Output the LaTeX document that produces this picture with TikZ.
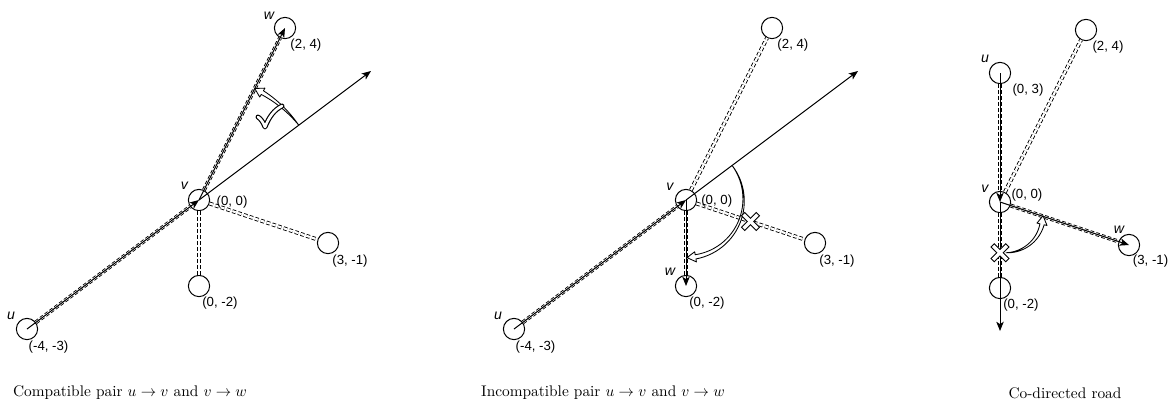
\documentclass[tikz,border=0pt]{standalone}
\usepackage{fontspec}
\newfontfamily\labfont{Liberation Sans}
\usetikzlibrary{arrows.meta}
\tikzset{
  vert/.style={circle, draw, line width=0.65pt, minimum size=13.8pt, inner sep=0pt},
  road/.style={draw, line width=0.55pt, double=white, double distance=1.4pt, dash pattern=on 2.4pt off 1.5pt},
  dirarrow/.style={draw, line width=0.65pt, -{Stealth[length=6pt,width=4.8pt,inset=1.5pt]}},
  coordlab/.style={font=\labfont\fontsize{8.6}{10}\selectfont, inner sep=0pt},
  namelab/.style={font=\labfont\itshape\fontsize{9.2}{10}\selectfont, inner sep=0pt},
  captionlab/.style={font=\fontsize{10}{12}\selectfont, inner sep=0pt},
  markblack/.style={line width=3.6pt, black},
  markwhite/.style={line width=2.2pt, white, shorten <=0.7pt, shorten >=0.7pt},
}
\newcommand{\hollowarc}[4]{%
  \pgfmathsetmacro\hbase{#3-(#4)*0.2/(#1)*57.2958}%
  \draw[line width=0.55pt, fill=white, line join=round]
    plot[domain=#2:\hbase, samples=30] (\x:{#1+0.05*(\x-(#2))/(\hbase-(#2))})
    -- (\hbase:{#1+0.12}) -- (#3:#1) -- (\hbase:{#1-0.12})
    -- plot[domain=\hbase:#2, samples=30] (\x:{#1-0.05*(\x-(#2))/(\hbase-(#2))}) -- cycle;
}
\newcommand{\xmarkat}[1]{%
  \draw[markblack] ([shift={(-5pt,-5pt)}]#1) -- ([shift={(5pt,5pt)}]#1);
  \draw[markblack] ([shift={(-5pt,5pt)}]#1) -- ([shift={(5pt,-5pt)}]#1);
  \draw[markwhite] ([shift={(-5pt,-5pt)}]#1) -- ([shift={(5pt,5pt)}]#1);
  \draw[markwhite] ([shift={(-5pt,5pt)}]#1) -- ([shift={(5pt,-5pt)}]#1);
}
\begin{document}
\begin{tikzpicture}[x=0.65pt, y=-0.65pt]
\useasboundingbox (0,0) rectangle (1169,412);

% ---------------- Panel 1 ----------------
\begin{scope}[shift={(199,200)}, x=27.95pt, y=27.95pt]
  \node[vert] (u1) at (-4,-3) {};
  \node[vert] (v1) at (0,0) {};
  \node[vert] (w1) at (2,4) {};
  \node[vert] (p1) at (3,-1) {};
  \node[vert] (q1) at (0,-2) {};
  \coordinate (f1) at (4,3);
  \draw[road] (u1) -- (v1);
  \draw[road] (v1) -- (w1);
  \draw[road] (v1) -- (p1);
  \draw[road] (v1) -- (q1);
  \draw[dirarrow] (u1.center) -- (v1.center);
  \draw[dirarrow] (v1.center) -- (w1.center);
  \draw[dirarrow] (v1.center) -- (f1);
  \hollowarc{2.9}{36.87}{63.43}{1}
  \node[namelab] at ([shift={(-10.4pt,8.5pt)}]u1) {u};
  \node[namelab] at ([shift={(-9.5pt,9pt)}]v1) {v};
  \node[namelab] at ([shift={(-10.4pt,7.8pt)}]w1) {w};
  \node[coordlab] at ([shift={(14pt,-11.5pt)}]u1) {(-4, -3)};
  \node[coordlab] at ([shift={(21.5pt,-1.3pt)}]v1) {(0, 0)};
  \node[coordlab] at ([shift={(13.6pt,-11.3pt)}]w1) {(2, 4)};
  \node[coordlab] at ([shift={(14.3pt,-11.5pt)}]p1) {(3, -1)};
  \node[coordlab] at ([shift={(13.6pt,-11pt)}]q1) {(0, -2)};
\end{scope}
% check mark
\draw[line width=3.2pt, line cap=round, line join=round] (258,117) .. controls (261,119) and (263,122) .. (265,127) .. controls (269,117) and (274,110) .. (282,106);
\draw[white, line width=1.7pt, line cap=round, line join=round] (258,117) .. controls (261,119) and (263,122) .. (265,127) .. controls (269,117) and (274,110) .. (282,106);

% ---------------- Panel 2 ----------------
\begin{scope}[shift={(686,200)}, x=27.95pt, y=27.95pt]
  \node[vert] (u2) at (-4,-3) {};
  \node[vert] (v2) at (0,0) {};
  \node[vert] (w2) at (0,-2) {};
  \node[vert] (p2) at (3,-1) {};
  \node[vert] (q2) at (2,4) {};
  \coordinate (f2) at (4,3);
  \coordinate (x2) at (1.5,-0.5);
  \draw[road] (u2) -- (v2);
  \draw[road] (v2) -- (q2);
  \draw[road] (v2) -- (p2);
  \draw[road] (v2) -- (w2);
  \draw[dirarrow] (u2.center) -- (v2.center);
  \draw[dirarrow] (v2.center) -- (w2.center);
  \draw[dirarrow] (v2.center) -- (f2);
  \hollowarc{1.34}{36.87}{-89}{-1}
  \xmarkat{x2}
  \node[namelab] at ([shift={(-10.4pt,8.5pt)}]u2) {u};
  \node[namelab] at ([shift={(-10.4pt,8.5pt)}]v2) {v};
  \node[namelab] at ([shift={(-10.4pt,9pt)}]w2) {w};
  \node[coordlab] at ([shift={(14pt,-11.5pt)}]u2) {(-4, -3)};
  \node[coordlab] at ([shift={(20pt,-0.6pt)}]v2) {(0, 0)};
  \node[coordlab] at ([shift={(13.6pt,-11.3pt)}]q2) {(2, 4)};
  \node[coordlab] at ([shift={(14.3pt,-11.5pt)}]p2) {(3, -1)};
  \node[coordlab] at ([shift={(13.6pt,-11pt)}]w2) {(0, -2)};
\end{scope}

% ---------------- Panel 3 ----------------
\begin{scope}[shift={(1000,202)}, x=27.95pt, y=27.95pt]
  \node[vert] (u3) at (0,3) {};
  \node[vert] (v3) at (0,0) {};
  \node[vert] (w3) at (3,-1) {};
  \node[vert] (p3) at (2,4) {};
  \node[vert] (q3) at (0,-2) {};
  \coordinate (f3) at (0,-3);
  \coordinate (x3) at (0,-1.18);
  \draw[road] (u3) -- (v3);
  \draw[road] (v3) -- (p3);
  \draw[road] (v3) -- (w3);
  \draw[road] (v3) -- (q3);
  \draw[dirarrow] (u3.center) -- (v3.center);
  \draw[dirarrow] (v3.center) -- (w3.center);
  \draw[dirarrow] (v3.center) -- (f3);
  \begin{scope}[shift={(0.14,-0.32)}]
    \hollowarc{0.86}{-90}{0}{1}
  \end{scope}
  \xmarkat{x3}
  \node[namelab] at ([shift={(-9.8pt,9pt)}]u3) {u};
  \node[namelab] at ([shift={(-9.8pt,8.5pt)}]v3) {v};
  \node[namelab] at ([shift={(-6.5pt,9.8pt)}]w3) {w};
  \node[coordlab] at ([shift={(18.2pt,-11pt)}]u3) {(0, 3)};
  \node[coordlab] at ([shift={(17.5pt,4.5pt)}]v3) {(0, 0)};
  \node[coordlab] at ([shift={(14.3pt,-11pt)}]p3) {(2, 4)};
  \node[coordlab] at ([shift={(14pt,-10.5pt)}]w3) {(3, -1)};
  \node[coordlab] at ([shift={(13.6pt,-11pt)}]q3) {(0, -2)};
\end{scope}

% ---------------- Captions ----------------
\node[captionlab] (cap1) at (130,393) {Compatible pair $u \to v$ and $v \to w$};
\node[captionlab] (cap2) at (603,393) {Incompatible pair $u \to v$ and $v \to w$};
\node[captionlab] (cap3) at (1065,393) {Co-directed road};
\end{tikzpicture}
\end{document}
